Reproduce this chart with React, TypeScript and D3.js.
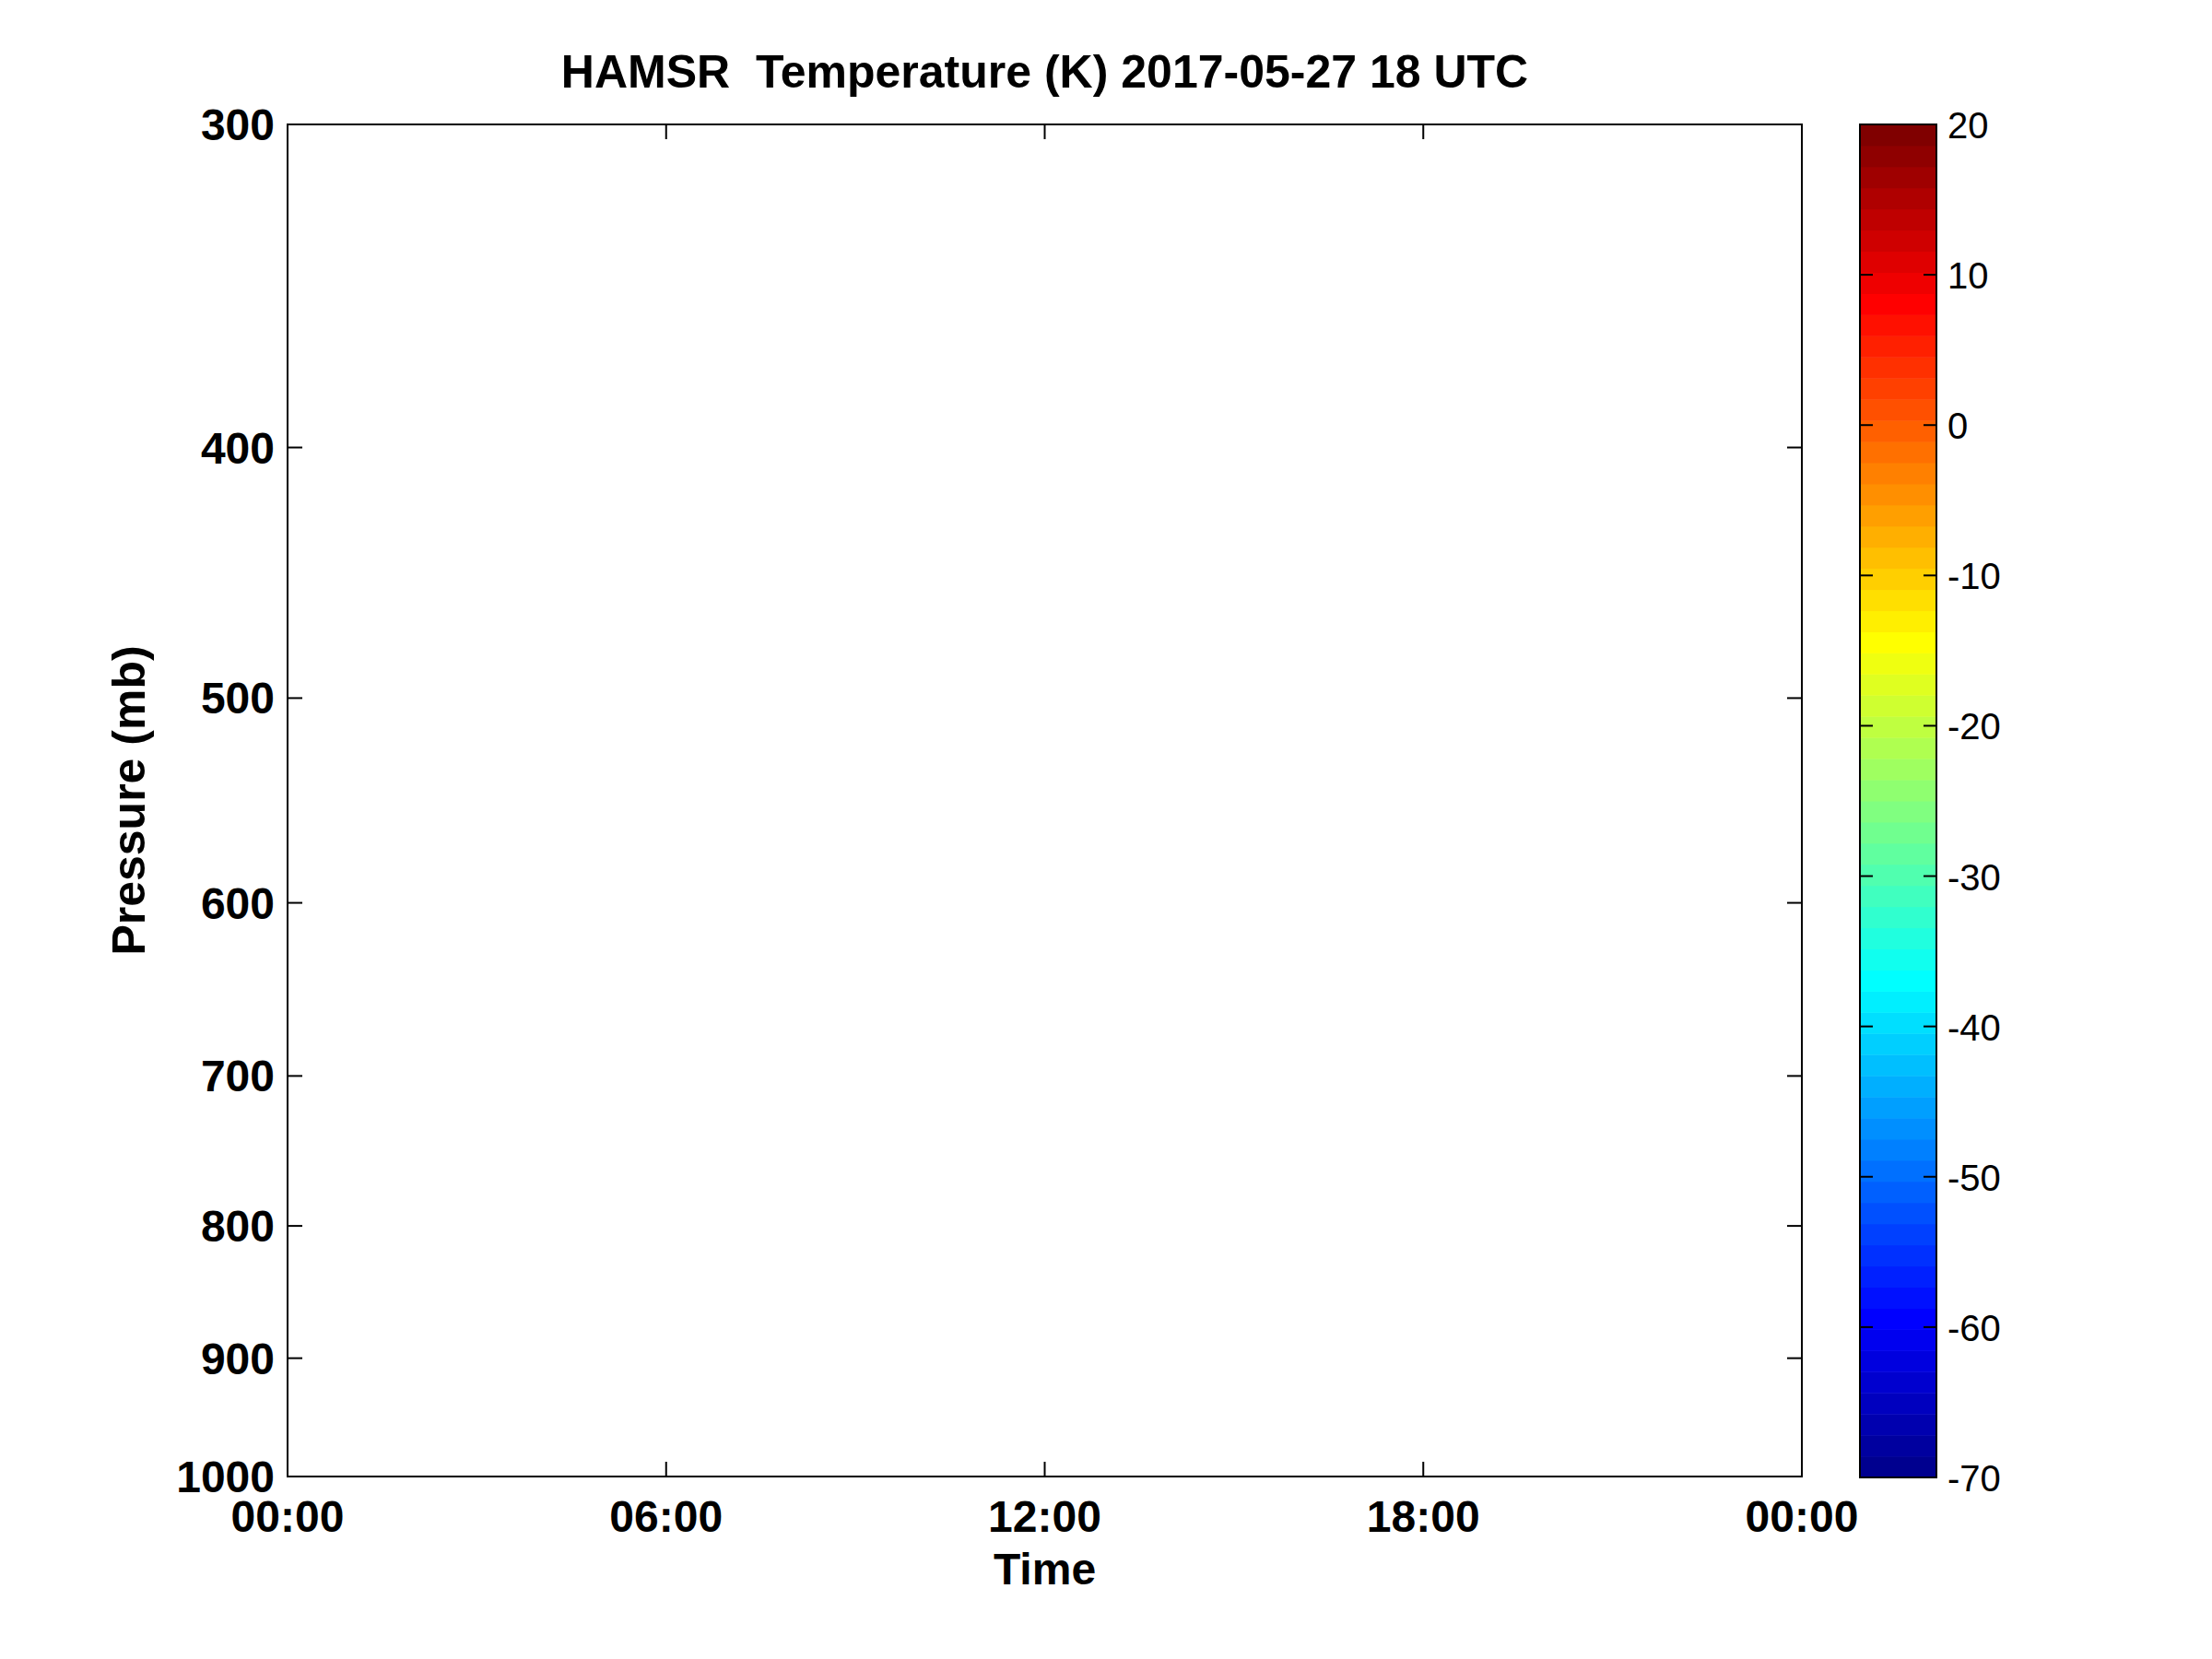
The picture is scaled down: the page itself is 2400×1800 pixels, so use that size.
import React from "react";
import * as d3 from "d3";

const TITLE = "HAMSR  Temperature (K) 2017-05-27 18 UTC";
const X_LABEL = "Time";
const Y_LABEL = "Pressure (mb)";
const pressureDomain = [300, 1000];
const pressureTicks = [300, 400, 500, 600, 700, 800, 900, 1000];
const timeStart = new Date(Date.UTC(2017, 4, 27, 0, 0));
const timeEnd = new Date(Date.UTC(2017, 4, 28, 0, 0));
const timeTickHours = [0, 6, 12, 18, 24];
const colorDomain = [-70, 20];
const colorTicks = [-70, -60, -50, -40, -30, -20, -10, 0, 10, 20];
const N_COLORS = 64;

// MATLAB jet(64) colormap
function jet(m: number): string[] {
  const n = Math.ceil(m / 4);
  const u: number[] = [];
  for (let i = 1; i <= n; i++) u.push(i / n);
  for (let i = 1; i <= n - 1; i++) u.push(1);
  for (let i = n; i >= 1; i--) u.push(i / n);
  const g0 = Math.ceil(n / 2) - (m % 4 === 1 ? 1 : 0);
  const R = new Array(m).fill(0), G = new Array(m).fill(0), B = new Array(m).fill(0);
  for (let k = 0; k < u.length; k++) {
    const g = g0 + k + 1;
    const r = g + n;
    const b = g - n;
    if (r >= 1 && r <= m) R[r - 1] = u[k];
    if (g >= 1 && g <= m) G[g - 1] = u[k];
    if (b >= 1 && b <= m) B[b - 1] = u[k];
  }
  return R.map((_, i) => d3.rgb(R[i] * 255, G[i] * 255, B[i] * 255).formatHex());
}

const W = 2400, H = 1800;
const plot = { left: 312, right: 1955, top: 135, bottom: 1602 };
const cbar = { left: 2018, right: 2101, top: 135, bottom: 1603 };
const FONT = "'Liberation Sans', Arial, Helvetica, sans-serif";

export default function App() {
  const x = d3.scaleUtc().domain([timeStart, timeEnd]).range([plot.left, plot.right]);
  const y = d3.scaleLog().domain(pressureDomain).range([plot.top, plot.bottom]);
  const c = d3.scaleLinear().domain(colorDomain).range([cbar.bottom, cbar.top]);
  const colors = jet(N_COLORS);
  const step = (colorDomain[1] - colorDomain[0]) / N_COLORS;
  const timeFmt = d3.utcFormat("%H:%M");
  const tickLen = 16;
  const cTickLen = 14;

  return (
    <svg width={W} height={H} style={{ position: "absolute", left: 0, top: 0, background: "#fff" }} fontFamily={FONT}>
      <rect x={0} y={0} width={W} height={H} fill="#fff" />
      <text x={(plot.left + plot.right) / 2} y={95} textAnchor="middle" fontSize={50} fontWeight="bold" style={{ whiteSpace: "pre" }}>
        {TITLE}
      </text>
      {/* ticks */}
      <g stroke="#000" strokeWidth={2}>
        {pressureTicks.map((p) => (
          <g key={p}>
            <line x1={plot.left} x2={plot.left + tickLen} y1={y(p)} y2={y(p)} />
            <line x1={plot.right} x2={plot.right - tickLen} y1={y(p)} y2={y(p)} />
          </g>
        ))}
        {timeTickHours.map((h) => {
          const xx = x(d3.utcHour.offset(timeStart, h));
          return (
            <g key={h}>
              <line x1={xx} x2={xx} y1={plot.bottom} y2={plot.bottom - tickLen} />
              <line x1={xx} x2={xx} y1={plot.top} y2={plot.top + tickLen} />
            </g>
          );
        })}
      </g>
      <rect x={plot.left} y={plot.top} width={plot.right - plot.left} height={plot.bottom - plot.top} fill="none" stroke="#000" strokeWidth={2} />
      {pressureTicks.map((p) => (
        <text key={p} x={plot.left - 14} y={y(p) + 17} textAnchor="end" fontSize={48} fontWeight="bold">
          {p}
        </text>
      ))}
      {timeTickHours.map((h) => {
        const d = d3.utcHour.offset(timeStart, h);
        return (
          <text key={h} x={x(d)} y={1662} textAnchor="middle" fontSize={48} fontWeight="bold">
            {timeFmt(d)}
          </text>
        );
      })}
      <text x={(plot.left + plot.right) / 2} y={1719} textAnchor="middle" fontSize={48} fontWeight="bold">
        {X_LABEL}
      </text>
      <text transform={`translate(157, ${(plot.top + plot.bottom) / 2}) rotate(-90)`} textAnchor="middle" fontSize={50} fontWeight="bold">
        {Y_LABEL}
      </text>
      {/* colorbar */}
      {colors.map((col, i) => {
        const v0 = colorDomain[0] + i * step;
        const v1 = v0 + step;
        return (
          <rect key={i} x={cbar.left} width={cbar.right - cbar.left} y={c(v1)} height={c(v0) - c(v1) + 0.5} fill={col} />
        );
      })}
      <g stroke="#000" strokeWidth={2}>
        {colorTicks.map((t) => (
          <g key={t}>
            <line x1={cbar.left} x2={cbar.left + cTickLen} y1={c(t)} y2={c(t)} />
            <line x1={cbar.right} x2={cbar.right - cTickLen} y1={c(t)} y2={c(t)} />
          </g>
        ))}
      </g>
      <rect x={cbar.left} y={cbar.top} width={cbar.right - cbar.left} height={cbar.bottom - cbar.top} fill="none" stroke="#000" strokeWidth={2} />
      {colorTicks.map((t) => (
        <text key={t} x={2113} y={c(t) + 15} fontSize={40}>
          {t}
        </text>
      ))}
    </svg>
  );
}
